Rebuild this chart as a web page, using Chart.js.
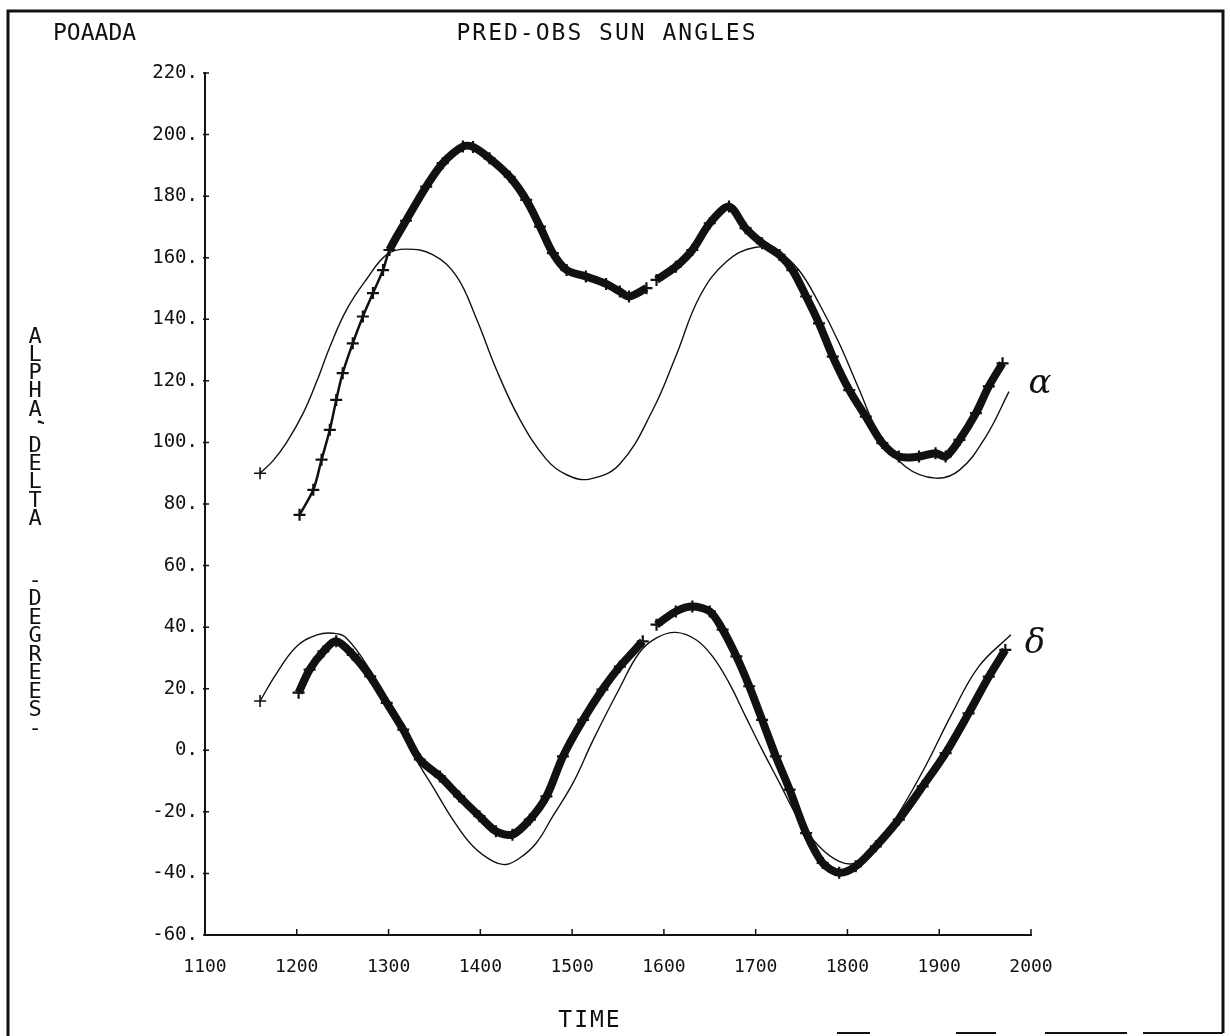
<!DOCTYPE html>
<html>
<head>
<meta charset="utf-8">
<script src="https://cdn.jsdelivr.net/npm/chart.js@4.4.1/dist/chart.umd.min.js"></script>
<style>
  html, body { margin: 0; padding: 0; background: #fff; }
  canvas { display: block; }
</style>
</head>
<body>
<canvas id="grafico-sol" width="1230" height="1036"></canvas>
<script>
// --- alpha, predicted (thin curve) ---
const alphaPredT = [1160, 1174, 1189, 1207, 1222, 1236, 1254, 1276, 1298, 1319, 1348, 1374, 1396, 1417, 1443, 1472, 1494, 1519, 1552, 1588, 1613, 1639, 1668, 1700, 1726, 1747, 1769, 1791, 1813, 1834, 1863, 1896, 1922, 1951, 1976];
const alphaPredV = [90, 94, 100, 109.5, 120, 131, 143, 153, 161, 162.8, 161, 154, 140, 124, 107.5, 94.5, 89.5, 88.1, 93, 110.6, 128, 147.4, 158.7, 163.4, 161.5, 156, 145.2, 132.2, 117, 103, 92.2, 88.4, 91, 102, 116.5];

// --- alpha, observed (plotted with + marks) ---
const alphaObsT = [1203, 1218, 1227, 1236, 1243, 1250, 1261, 1272, 1283, 1294, 1301, 1319, 1341, 1359, 1381, 1392, 1410, 1432, 1450, 1465, 1479, 1494, 1515, 1537, 1552, 1562, 1581, 1586, 1592, 1613, 1631, 1650, 1671, 1689, 1707, 1726, 1740, 1755, 1769, 1784, 1802, 1820, 1838, 1856, 1878, 1896, 1907, 1922, 1940, 1954, 1969];
const alphaObsV = [76.5, 84.6, 94.4, 104.1, 113.8, 122.5, 132.2, 140.9, 148.5, 156, 162.5, 172, 183.1, 190.7, 196.1, 196, 192.3, 186.3, 178.8, 170.1, 161.5, 156, 153.9, 151.5, 149, 147.4, 150.1, null, 152.8, 157.1, 162.5, 171.2, 176.6, 169.6, 164.7, 160.9, 156, 147.4, 138.7, 127.9, 117, 108.4, 99.8, 95.4, 95.4, 96.5, 95.4, 100.8, 109.5, 118.2, 125.7];

// --- delta, predicted ---
const deltaPredT = [1160, 1178, 1200, 1222, 1240, 1254, 1280, 1298, 1316, 1334, 1348, 1370, 1392, 1414, 1428, 1443, 1461, 1479, 1501, 1523, 1552, 1573, 1592, 1613, 1635, 1653, 1671, 1689, 1707, 1726, 1747, 1769, 1791, 1809, 1831, 1856, 1885, 1914, 1943, 1978];
const deltaPredV = [16, 25, 33.8, 37.5, 38, 36.5, 26, 16, 5, -5, -11.7, -22.5, -31.2, -36.1, -37.1, -35, -30.1, -21.4, -10.6, 3.4, 20.3, 31.6, 36.5, 38.3, 35.9, 30.5, 21.9, 11, 0.2, -10.6, -22.5, -31.2, -36.1, -36.6, -31.2, -20.4, -5.2, 12, 27.2, 37.5];

// --- delta, observed ---
const deltaObsT = [1202, 1214, 1229, 1243, 1261, 1280, 1298, 1316, 1334, 1356, 1377, 1399, 1417, 1435, 1454, 1472, 1490, 1512, 1533, 1552, 1577, 1584, 1592, 1613, 1631, 1650, 1664, 1679, 1693, 1707, 1722, 1737, 1755, 1773, 1791, 1809, 1831, 1856, 1882, 1907, 1932, 1954, 1972];
const deltaObsV = [18.7, 26.2, 32.1, 35.4, 31, 24, 15.4, 6.7, -3, -8.5, -15, -21.4, -26.3, -27.4, -22.5, -15, -2, 9.9, 19.7, 27.2, 35.4, null, 40.8, 45.1, 46.7, 45.1, 39.2, 30.5, 20.8, 9.9, -2, -12.8, -26.9, -36.6, -39.8, -37.7, -31.2, -22.5, -11.7, -0.9, 12, 23.9, 32.6];

// axis ticks
const timeTicks = [1100, 1200, 1300, 1400, 1500, 1600, 1700, 1800, 1900, 2000];
const angleTicks = [-60, -40, -20, 0, 20, 40, 60, 80, 100, 120, 140, 160, 180, 200, 220];

const INK = '#111';
const MONO = '"DejaVu Sans Mono", "Liberation Mono", monospace';

const toXY = (xs, ys) => xs.map((x, i) => ({ x, y: ys[i] }));

// thin predicted curve with a + only at its first point
function predicted(xs, ys) {
  return {
    data: toXY(xs, ys),
    borderColor: INK,
    borderWidth: 1.4,
    tension: 0.4,
    pointStyle: 'cross',
    pointRadius: ctx => ctx.dataIndex === 0 ? 6 : 0,
    pointBorderWidth: 1.6,
    pointBorderColor: INK,
    spanGaps: false
  };
}

// heavy observed track, built up from + marks
function observed(xs, ys, thinUntil) {
  return {
    data: toXY(xs, ys),
    borderColor: INK,
    borderWidth: 8,
    tension: 0.3,
    segment: {
      borderWidth: ctx => ctx.p1.parsed.x <= thinUntil ? 2.5 : 8
    },
    pointStyle: 'cross',
    pointRadius: 6,
    pointBorderWidth: 2.2,
    pointBorderColor: INK,
    spanGaps: false
  };
}

// text, frame and inward tick marks drawn on top of the chart
const decorPlotter = {
  id: 'decorPlotter',
  afterDraw(chart) {
    const c = chart.ctx;
    const xs = chart.scales.x, ys = chart.scales.y;
    c.save();
    c.strokeStyle = INK;
    c.fillStyle = INK;

    // inward ticks
    c.lineWidth = 1.5;
    c.beginPath();
    timeTicks.forEach(t => {
      const px = xs.getPixelForValue(t);
      c.moveTo(px, ys.bottom);
      c.lineTo(px, ys.bottom - 6);
    });
    angleTicks.forEach(v => {
      const py = ys.getPixelForValue(v);
      c.moveTo(xs.left - 2, py);
      c.lineTo(xs.left + 4, py);
    });
    c.stroke();

    // page frame
    c.lineWidth = 3;
    c.beginPath();
    c.moveTo(8, 1036); c.lineTo(8, 11); c.lineTo(1223, 11); c.lineTo(1223, 1033);
    c.stroke();
    c.lineWidth = 2;
    [[837, 870], [956, 996], [1045, 1127], [1143, 1223]].forEach(([a, b]) => {
      c.beginPath(); c.moveTo(a, 1033); c.lineTo(b, 1033); c.stroke();
    });

    // headings
    c.font = '23px ' + MONO;
    c.textBaseline = 'alphabetic';
    c.textAlign = 'left';
    c.fillText('POAADA', 53, 40);
    c.letterSpacing = '2px';
    c.textAlign = 'center';
    c.fillText('PRED-OBS SUN ANGLES', 607, 40);
    c.fillText('TIME', 590, 1027);
    c.letterSpacing = '0px';

    // stacked y-axis label, the comma turned on its side
    c.font = '22px ' + MONO;
    c.textBaseline = 'middle';
    const stack = (text, y0, step) => {
      [...text].forEach((ch, i) => {
        const y = y0 + i * step;
        if (ch === ',') {
          c.save();
          c.translate(35, y - 6);
          c.rotate(-Math.PI / 2);
          c.fillText(ch, 0, 0);
          c.restore();
        } else {
          c.fillText(ch, 35, y);
        }
      });
    };
    stack('ALPHA,DELTA', 337, 18.2);
    stack('-DEGREES-', 581, 18.5);

    // curve tags
    c.font = 'italic 34px "DejaVu Serif", "Liberation Serif", serif';
    c.fillText('\u03b1', 1040, 384);
    c.fillText('\u03b4', 1035, 644);
    c.restore();
  }
};

new Chart(document.getElementById('grafico-sol'), {
  type: 'line',
  data: {
    datasets: [
      predicted(alphaPredT, alphaPredV),
      observed(alphaObsT, alphaObsV, 1301),
      predicted(deltaPredT, deltaPredV),
      observed(deltaObsT, deltaObsV, 0)
    ]
  },
  options: {
    responsive: false,
    animation: false,
    devicePixelRatio: 1,
    layout: { padding: { left: 0, top: 73, right: 199, bottom: 41 } },
    plugins: { legend: { display: false }, tooltip: { enabled: false } },
    scales: {
      x: {
        type: 'linear',
        min: 1100,
        max: 2000,
        afterFit: s => { s.height = 60; },
        afterBuildTicks: s => { s.ticks = timeTicks.map(v => ({ value: v })); },
        ticks: { color: INK, padding: 22, maxRotation: 0, font: { family: MONO, size: 18 }, callback: v => String(v) },
        grid: { display: true, drawOnChartArea: false, drawTicks: false },
        border: { display: true, color: INK, width: 2 }
      },
      y: {
        min: -60,
        max: 220,
        afterFit: s => { s.width = 205; },
        afterBuildTicks: s => { s.ticks = angleTicks.map(v => ({ value: v })); },
        ticks: { color: INK, padding: 7, font: { family: MONO, size: 19 }, callback: v => v + '.' },
        grid: { display: true, drawOnChartArea: false, drawTicks: false },
        border: { display: true, color: INK, width: 2 }
      }
    }
  },
  plugins: [decorPlotter]
});
</script>
</body>
</html>
